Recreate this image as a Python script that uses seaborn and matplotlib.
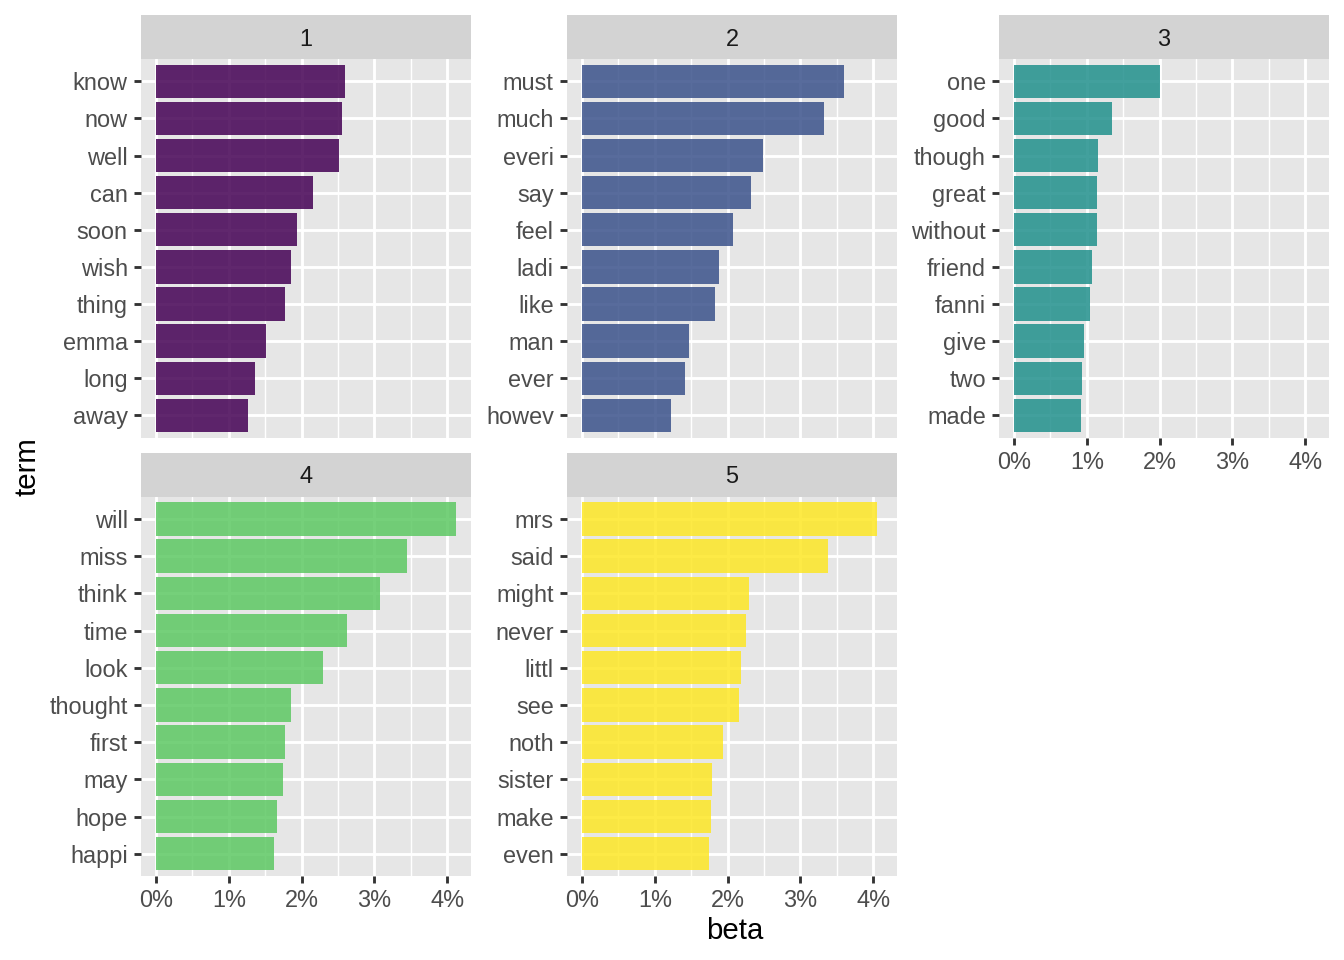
import matplotlib
matplotlib.use('Agg')
import matplotlib.pyplot as plt
import seaborn as sns
from matplotlib.ticker import PercentFormatter, MultipleLocator

# Top terms per topic (beta as a fraction)
topics = ['1', '2', '3', '4', '5']

terms_1 = ['know', 'now', 'well', 'can', 'soon', 'wish', 'thing', 'emma', 'long', 'away']
beta_1 = [0.0260, 0.0255, 0.0251, 0.0216, 0.0193, 0.0186, 0.0177, 0.0151, 0.0136, 0.0126]

terms_2 = ['must', 'much', 'everi', 'say', 'feel', 'ladi', 'like', 'man', 'ever', 'howev']
beta_2 = [0.0360, 0.0333, 0.0249, 0.0232, 0.0208, 0.0188, 0.0182, 0.0147, 0.0142, 0.0122]

terms_3 = ['one', 'good', 'though', 'great', 'without', 'friend', 'fanni', 'give', 'two', 'made']
beta_3 = [0.0200, 0.0134, 0.0115, 0.0114, 0.0114, 0.0107, 0.0105, 0.0096, 0.0093, 0.0092]

terms_4 = ['will', 'miss', 'think', 'time', 'look', 'thought', 'first', 'may', 'hope', 'happi']
beta_4 = [0.0412, 0.0345, 0.0307, 0.0262, 0.0229, 0.0185, 0.0177, 0.0175, 0.0166, 0.0162]

terms_5 = ['mrs', 'said', 'might', 'never', 'littl', 'see', 'noth', 'sister', 'make', 'even']
beta_5 = [0.0405, 0.0338, 0.0229, 0.0225, 0.0218, 0.0215, 0.0193, 0.0178, 0.0177, 0.0175]

all_terms = [terms_1, terms_2, terms_3, terms_4, terms_5]
all_beta = [beta_1, beta_2, beta_3, beta_4, beta_5]

colors = ['#440154', '#3B528B', '#21908C', '#5DC863', '#FDE725']

sns.set_theme(style='white')
plt.rcParams['font.family'] = ['Liberation Sans', 'DejaVu Sans']

W, H = 1344, 960
fig = plt.figure(figsize=(7, 5), dpi=192)

# panel pixel boxes (left, right) per column and (strip top, strip bottom, panel bottom) per row
cols = [(141, 471), (567, 897), (999, 1329)]
rows = [(15, 59, 437.7), (452.7, 496.7, 876)]

bmax = max(max(b) for b in all_beta)
xlo, xhi = -0.05 * bmax, bmax * 1.05

for i in range(5):
    r, c = divmod(i, 3)
    left, right = cols[c]
    st, sb, pb = rows[r]
    ax = fig.add_axes([left / W, 1 - pb / H, (right - left) / W, (pb - sb) / H])
    sax = fig.add_axes([left / W, 1 - sb / H, (right - left) / W, (sb - st) / H])

    ax.set_facecolor('#E6E6E6')
    sns.barplot(x=all_beta[i], y=all_terms[i], color=colors[i], alpha=0.85,
                saturation=1, width=0.9, orient='h', ax=ax, zorder=3,
                linewidth=0, edgecolor='none')
    ax.set_xlim(xlo, xhi)
    ax.set_ylim(9.6, -0.6)
    ax.xaxis.set_major_locator(MultipleLocator(0.01))
    ax.xaxis.set_minor_locator(MultipleLocator(0.005))
    ax.xaxis.set_major_formatter(PercentFormatter(xmax=1, decimals=0))
    ax.grid(which='major', color='white', linewidth=1.07, zorder=0)
    ax.grid(which='minor', axis='x', color='white', linewidth=0.53, zorder=0)
    ax.set_axisbelow(True)
    for s in ax.spines.values():
        s.set_visible(False)
    ax.set_xlabel('')
    ax.set_ylabel('')
    ax.tick_params(axis='y', which='major', left=True, length=2.75, width=1.07,
                   color='#333333', labelsize=8.8, labelcolor='#4D4D4D', pad=2.2)
    ax.tick_params(axis='x', which='minor', bottom=False)
    if i >= 2:
        ax.tick_params(axis='x', which='major', bottom=True, length=2.75, width=1.07,
                       color='#333333', labelsize=8.8, labelcolor='#4D4D4D', pad=2.2)
    else:
        ax.tick_params(axis='x', which='major', bottom=False, labelbottom=False)

    sax.set_facecolor('#D3D3D3')
    sax.set_xticks([])
    sax.set_yticks([])
    for s in sax.spines.values():
        s.set_visible(False)
    sax.text(0.5, 0.45, topics[i], ha='center', va='center', fontsize=8.8,
             color='#1A1A1A', transform=sax.transAxes)

fig.text(735 / W, 1 - 931 / H, 'beta', ha='center', va='center', fontsize=11, color='black')
fig.text(27 / W, 1 - 467 / H, 'term', ha='center', va='center', rotation=90,
         fontsize=11, color='black')

fig.savefig('out.png', dpi=192, facecolor='white')
